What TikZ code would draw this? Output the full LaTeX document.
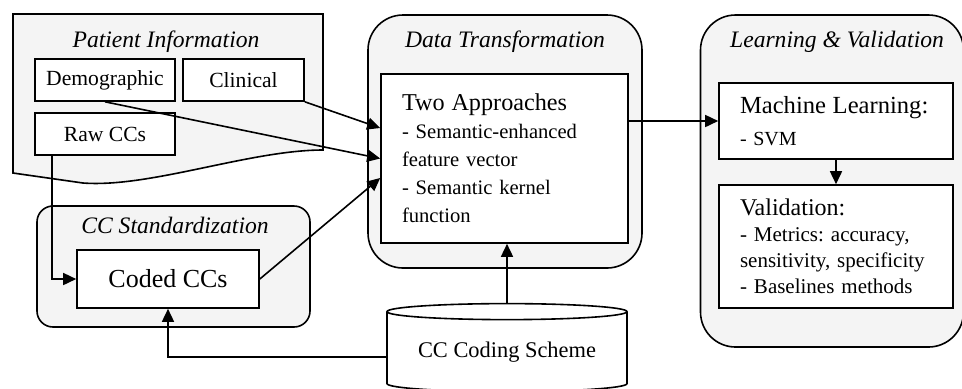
\documentclass[tikz,border=0pt]{standalone}
\usepackage{fontspec}
\setmainfont{Liberation Serif}
\usetikzlibrary{shapes.geometric, arrows.meta, positioning, calc}
\frenchspacing

\begin{document}
\begin{tikzpicture}[x=0.5pt, y=-0.5pt,
    groupbg/.style={draw, fill=gray!9, line width=0.8pt},
    group/.style={groupbg, rounded corners=17.5pt, inner sep=0pt},
    grouptitle/.style={anchor=base, font=\fontsize{11.8pt}{14pt}\selectfont\itshape},
    item/.style={draw, fill=white, line width=0.8pt, minimum height=21pt, inner sep=0pt,
      font=\fontsize{10.8pt}{13pt}\selectfont},
    block/.style={draw, fill=white, line width=0.8pt, align=left, inner xsep=10.5pt, inner ysep=0pt},
    store/.style={cylinder, shape border rotate=90, draw, fill=white, line width=0.8pt, aspect=0.09,
      minimum width=120pt, minimum height=44pt, inner sep=0pt, font=\fontsize{11.2pt}{13pt}\selectfont},
    link/.style={-{Triangle[length=6.5pt, width=6pt]}, line width=0.8pt}
  ]
    \useasboundingbox (0,0) rectangle (962,388);

    % containers
    \draw[groupbg] (13,14) -- (323,14) -- (323,150)
      .. controls (250,150) and (150,188) .. (83,183) -- (13,173) -- cycle;
    \node[group, rounded corners=8pt, minimum width=136.5pt, minimum height=60.5pt] (stdgroup) at (173.5,266.5) {};
    \node[group, minimum width=137pt, minimum height=126.5pt] (transgroup) at (505,141.5) {};
    \node[group, minimum width=131.5pt, minimum height=166pt] (learngroup) at (832,181) {};

    \node[grouptitle] (patienttitle) at (166,47) {Patient Information};
    \node[grouptitle] (stdtitle) at (175,233) {CC Standardization};
    \node[grouptitle] (transtitle) at (505,47) {Data Transformation};
    \node[grouptitle] (learntitle) at (837,47) {Learning \& Validation};

    % boxes
    \node[item, minimum width=70pt] (demo) at (105,80) {Demographic};
    \node[item, minimum width=60.5pt] (clin) at (243.5,80) {Clinical};
    \node[item, minimum width=70pt] (raw) at (105,134) {Raw CCs};
    \node[item, minimum width=91pt, minimum height=29pt, font=\fontsize{13pt}{15pt}\selectfont] (coded) at (168,279) {Coded CCs};

    \node[block, text width=102.5pt, minimum height=84.5pt, font=\fontsize{10.3pt}{14pt}\selectfont] (twoapp) at (504.5,158.5)
      {{\fontsize{12.1pt}{14pt}\selectfont Two Approaches}\\- Semantic-enhanced\\feature vector\\- Semantic kernel\\function};
    \node[block, text width=96pt, minimum height=38pt, font=\fontsize{10pt}{16pt}\selectfont] (ml) at (836,121)
      {{\fontsize{12.3pt}{16pt}\selectfont Machine Learning:}\\- SVM};
    \node[block, text width=96pt, minimum height=61.5pt, font=\fontsize{10.5pt}{13pt}\selectfont] (val) at (836,246.5)
      {{\fontsize{12pt}{13pt}\selectfont Validation:}\\- Metrics: accuracy,\\sensitivity, specificity\\- Baselines methods};

    \node[store] (scheme) at (507,352) {CC Coding Scheme};

    % connectors
    \draw[link] (clin.south east) -- ($(twoapp.west)+(0,-30.5)$);
    \draw[link] (demo.south) -- (twoapp.west);
    \draw[link] (coded.east) -- ($(twoapp.west)+(0,19.5)$);
    \draw[link] ($(raw.south west)+(18,0)$) |- (coded.west);
    \draw[link] ($(scheme.west)+(0,5)$) -| (coded.south);
    \draw[link] (scheme.north) -- (scheme.north |- twoapp.south);
    \draw[link] (twoapp.east |- ml.west) -- (ml.west);
    \draw[link] (ml.south) -- (val.north);
\end{tikzpicture}
\end{document}
